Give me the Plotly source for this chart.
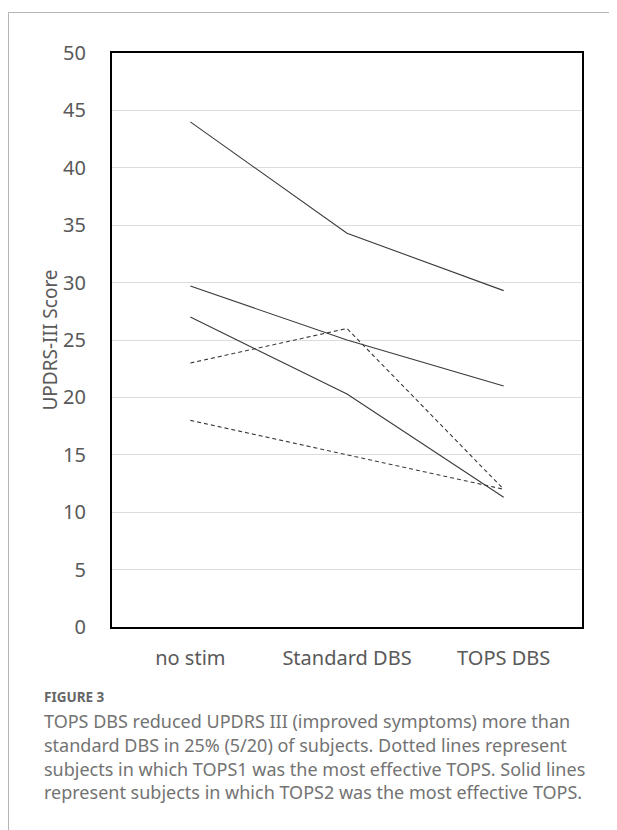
import plotly.graph_objects as go

categories = ["no stim", "Standard DBS", "TOPS DBS"]

# Solid lines: TOPS2 most effective
solid_a = [44.0, 34.3, 29.3]
solid_b = [29.7, 25.0, 21.0]
solid_c = [27.0, 20.3, 11.3]
# Dotted lines: TOPS1 most effective
dotted_a = [23.0, 26.0, 12.0]
dotted_b = [18.0, 15.0, 12.0]

y_ticks = [0, 5, 10, 15, 20, 25, 30, 35, 40, 45, 50]

# the page body has an 8px default margin; work in page coordinates and compensate
OFF = 8
W, H = 617 - OFF, 830 - OFF
L, T = 112 - OFF, 53 - OFF
R = W - (582 - OFF)
B = H - (627 - OFF)
pw, ph = W - L - R, H - T - B


def px(x):
    return (x - OFF - L) / pw


def py(y):
    return (H - B - (y - OFF)) / ph


fig = go.Figure()
line_col = "#3a3a3a"
for s in [solid_a, solid_b, solid_c]:
    fig.add_trace(go.Scatter(x=categories, y=s, mode="lines",
                             line=dict(color=line_col, width=1.1), showlegend=False))
for s in [dotted_a, dotted_b]:
    fig.add_trace(go.Scatter(x=categories, y=s, mode="lines",
                             line=dict(color=line_col, width=1.1, dash="4px,3px"), showlegend=False))

font_family = "Noto Sans"
fig.update_layout(
    width=W, height=H,
    margin=dict(l=L, r=R, t=T, b=B),
    paper_bgcolor="white", plot_bgcolor="white",
    font=dict(family=font_family, color="#595959", size=20),
    xaxis=dict(range=[-0.5, 2.5], showgrid=False, showline=True, mirror=True,
               linecolor="black", linewidth=2, ticks="", ticklabelstandoff=12,
               tickfont=dict(size=20, color="#595959"), fixedrange=True),
    yaxis=dict(range=[0, 50], tickvals=y_ticks, showgrid=True, gridcolor="#dcdcdc",
               gridwidth=1, showline=True, mirror=True, linecolor="black", linewidth=2,
               ticks="", ticklabelstandoff=20, zeroline=False,
               tickfont=dict(size=20, color="#595959"),
               title=dict(text="UPDRS-III Score", font=dict(size=19, color="#595959"),
                          standoff=0)),
)

# page frame lines
fig.add_shape(type="line", xref="paper", yref="paper",
              x0=px(8.5), x1=px(640), y0=py(12.5), y1=py(12.5),
              line=dict(color="#b5b5b5", width=1))
fig.add_shape(type="line", xref="paper", yref="paper",
              x0=px(8.5), x1=px(8.5), y0=py(12.5), y1=py(860),
              line=dict(color="#b5b5b5", width=1))

fig.add_annotation(xref="paper", yref="paper", x=px(42), y=py(697),
                   xanchor="left", yanchor="middle", showarrow=False,
                   text="<b>FIGURE 3</b>",
                   font=dict(family=font_family, size=13.5, color="#666666"))

caption_lines = [
    "TOPS DBS reduced UPDRS III (improved symptoms) more than",
    "standard DBS in 25% (5/20) of subjects. Dotted lines represent",
    "subjects in which TOPS1 was the most effective TOPS. Solid lines",
    "represent subjects in which TOPS2 was the most effective TOPS.",
]
for i, line in enumerate(caption_lines):
    fig.add_annotation(xref="paper", yref="paper", x=px(42), y=py(721 + 23.8 * i),
                       xanchor="left", yanchor="middle", showarrow=False,
                       text=line,
                       font=dict(family=font_family, size=18, color="#737373"))

fig.write_html("out.html")
